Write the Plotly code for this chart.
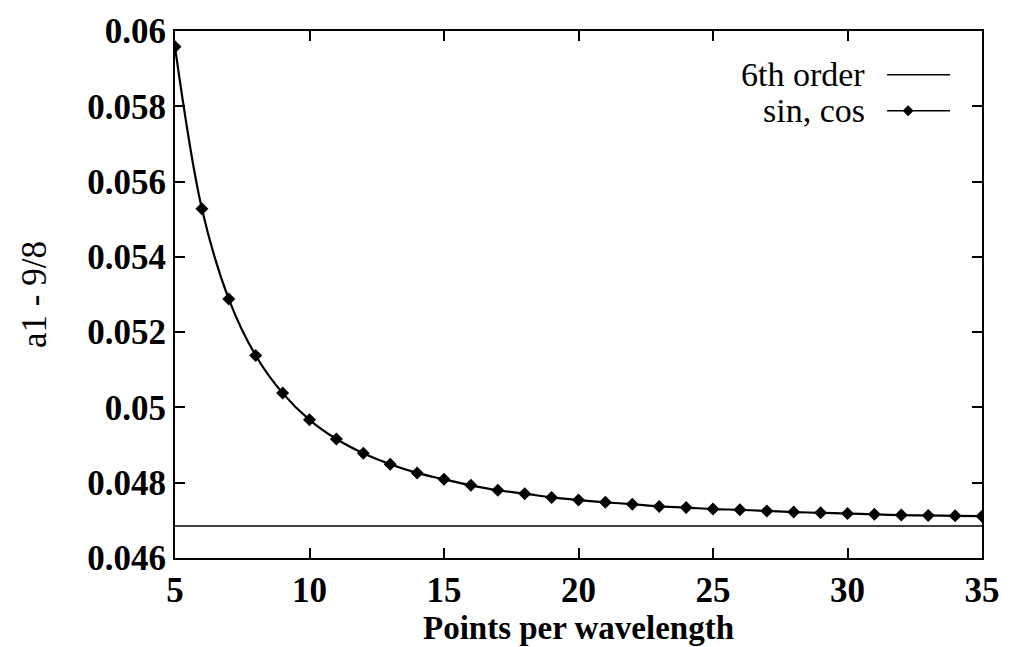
import plotly.graph_objects as go

# Data
points_per_wavelength = list(range(5, 36))
sincos_values = [0.05958, 0.05528, 0.05288, 0.05138, 0.05038, 0.04967, 0.04916,
                 0.04878, 0.04849, 0.04826, 0.04809, 0.04793, 0.04780, 0.04771,
                 0.04761, 0.04754, 0.04748, 0.04743, 0.04737, 0.04734, 0.04730,
                 0.04728, 0.04725, 0.04722, 0.04720, 0.04718, 0.04716, 0.04714,
                 0.04713, 0.04712, 0.04711]
sixth_order_x = [5, 35]
sixth_order_values = [0.04685, 0.04685]

x_ticks = [5, 10, 15, 20, 25, 30, 35]
y_ticks = [0.046, 0.048, 0.05, 0.052, 0.054, 0.056, 0.058, 0.06]
y_tick_labels = ["0.046", "0.048", "0.05", "0.052", "0.054", "0.056", "0.058", "0.06"]

legend_labels = ["6th order", "sin, cos"]

W, H = 1012, 647
L, R, T, B = 175, 29, 29, 89
pw, ph = W - L - R, H - T - B
FONT = "Liberation Serif, Times New Roman, Times, serif"

def px(xp):
    return (xp - L) / pw

def py(yp):
    return (H - B - yp) / ph

fig = go.Figure()
fig.add_trace(go.Scatter(x=sixth_order_x, y=sixth_order_values, mode="lines",
                         line=dict(color="black", width=1.5), name=legend_labels[0],
                         showlegend=False))
fig.add_trace(go.Scatter(x=points_per_wavelength, y=sincos_values, mode="lines+markers",
                         line=dict(color="black", width=2.2, shape="spline"),
                         marker=dict(symbol="diamond", size=10, color="black"),
                         name=legend_labels[1], showlegend=False))

tickfont = dict(family=FONT, size=35, color="black")
axis_common = dict(showline=True, linecolor="black", linewidth=2, mirror="ticks",
                   ticks="inside", ticklen=10, tickwidth=2, tickcolor="black",
                   showgrid=False, zeroline=False, tickfont=tickfont)

fig.update_xaxes(range=[5, 35], tickvals=x_ticks, ticktext=[f"<b>{v}</b>" for v in x_ticks],
                 title=dict(text="<b>Points per wavelength</b>", standoff=0,
                            font=dict(family=FONT, size=33, color="black")),
                 **axis_common)
fig.update_yaxes(range=[0.046, 0.06], tickvals=y_ticks,
                 ticktext=[f"<b>{t}</b>" for t in y_tick_labels],
                 title=dict(text="a1 - 9/8", standoff=30,
                            font=dict(family=FONT, size=35, color="black")),
                 **axis_common)

# custom legend (text left, sample right)
legend_rows_y = [73, 109]
annotations = []
shapes = []
for label, yy in zip(legend_labels, legend_rows_y):
    annotations.append(dict(x=px(868), y=py(yy), xref="paper", yref="paper",
                            text=label, showarrow=False, xanchor="right", yanchor="middle",
                            font=dict(family=FONT, size=34, color="black")))
    shapes.append(dict(type="line", xref="paper", yref="paper",
                       x0=px(888), x1=px(951), y0=py(yy), y1=py(yy),
                       line=dict(color="black", width=1.5)))
shapes.append(dict(type="path", xref="paper", yref="paper",
                   xsizemode="pixel", ysizemode="pixel",
                   xanchor=px(909), yanchor=py(legend_rows_y[1]),
                   path="M -5 0 L 0 5 L 5 0 L 0 -5 Z",
                   fillcolor="black", line=dict(color="black", width=1)))

fig.update_layout(width=W, height=H, margin=dict(l=L, r=R, t=T, b=B),
                  paper_bgcolor="white", plot_bgcolor="white",
                  annotations=annotations, shapes=shapes, showlegend=False)

fig.write_html("out.html")
